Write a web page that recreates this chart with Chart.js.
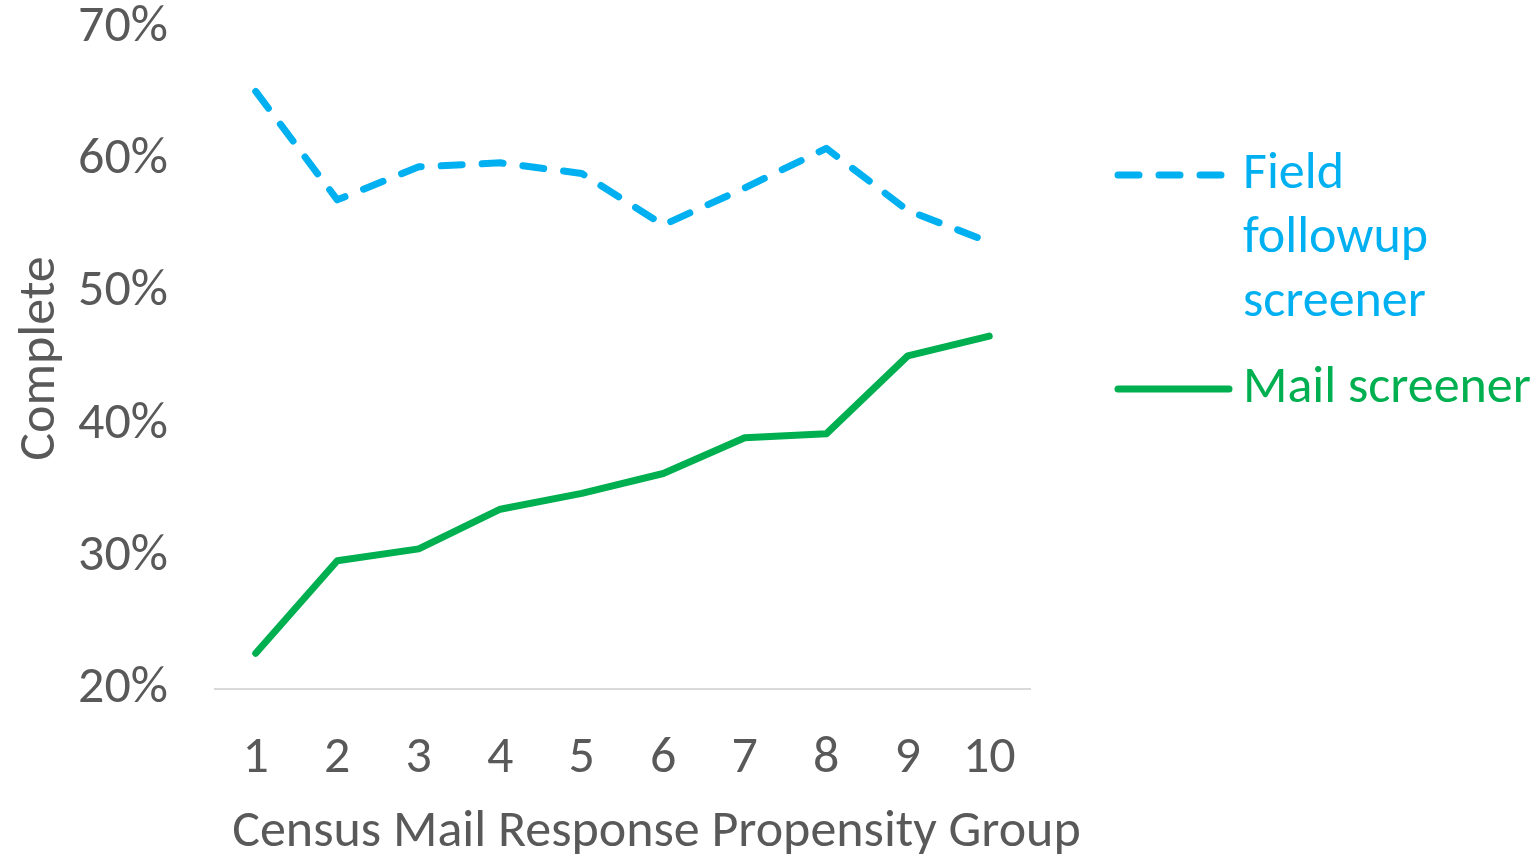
<!DOCTYPE html>
<html>
<head>
<meta charset="utf-8">
<script src="https://cdn.jsdelivr.net/npm/chart.js@4/dist/chart.umd.min.js"></script>
<style>
  html, body { margin: 0; padding: 0; background: #fff; }
  #wrap { width: 1540px; height: 859px; }
</style>
</head>
<body>
<div id="wrap"><canvas id="lineas" width="1540" height="859"></canvas></div>
<script>
// data
var groups = ['1', '2', '3', '4', '5', '6', '7', '8', '9', '10'];
var fieldFollowup = [65.2, 57.0, 59.5, 59.8, 59.0, 55.1, 57.9, 60.9, 56.2, 53.8];
var mailScreener = [22.7, 29.7, 30.6, 33.6, 34.8, 36.3, 39.0, 39.3, 45.2, 46.7];
var seriesNames = [['Field', 'followup', 'screener'], ['Mail screener']];
var yTicks = [20, 30, 40, 50, 60, 70];
var xTitle = 'Census Mail Response Propensity Group';

var FONT = 'Carlito, Calibri, Lato, sans-serif';
var GREY = '#595959';
var SIZE = 52;

// legend on the right, one line of text per row, plus the x title
var leyenda = {
    id: 'leyenda',
    afterDraw: function (chart) {
        var ctx = chart.ctx;
        var area = chart.chartArea;
        var x0 = area.right + 88;
        var y = 175;
        ctx.save();
        ctx.font = SIZE + 'px ' + FONT;
        ctx.textBaseline = 'middle';
        chart.data.datasets.forEach(function (ds, i) {
            ctx.strokeStyle = ds.borderColor;
            ctx.lineWidth = ds.borderWidth;
            ctx.lineCap = 'round';
            ctx.setLineDash(ds.borderDash || []);
            ctx.beginPath();
            ctx.moveTo(x0, y);
            ctx.lineTo(x0 + 111, y);
            ctx.stroke();
            ctx.setLineDash([]);
            ctx.fillStyle = ds.borderColor;
            seriesNames[i].forEach(function (line, j) {
                ctx.fillText(line, x0 + 125, y + j * 64);
            });
            y += seriesNames[i].length * 64 + 22;
        });
        // excel puts the axis title a bit right of the plot centre
        ctx.fillStyle = GREY;
        ctx.textAlign = 'center';
        ctx.fillText(xTitle, (area.left + area.right) / 2 + 34, area.bottom + 144);
        ctx.restore();
    }
};

var ctx = document.getElementById('lineas');
var grafica = new Chart(ctx, {
    type: 'line',
    data: {
        labels: groups,
        datasets: [{
            label: seriesNames[0].join(' '),
            data: fieldFollowup,
            borderColor: '#00B0F0',
            backgroundColor: '#00B0F0',
            borderWidth: 7,
            borderDash: [21, 20],
            borderCapStyle: 'round',
            borderJoinStyle: 'round',
            pointRadius: 0,
            tension: 0
        }, {
            label: seriesNames[1].join(' '),
            data: mailScreener,
            borderColor: '#00B050',
            backgroundColor: '#00B050',
            borderWidth: 7,
            borderCapStyle: 'round',
            borderJoinStyle: 'round',
            pointRadius: 0,
            tension: 0
        }]
    },
    options: {
        responsive: false,
        animation: false,
        layout: { padding: { left: 10, right: 510, top: 28, bottom: 4 } },
        plugins: {
            legend: { display: false },
            tooltip: { enabled: false }
        },
        scales: {
            x: {
                offset: true,
                grid: { display: false },
                border: { display: true, color: '#D9D9D9', width: 2 },
                ticks: { color: GREY, font: { family: FONT, size: SIZE }, padding: 31, maxRotation: 0 },
                afterFit: function (scale) { scale.height = 166; },
                title: { display: false }
            },
            y: {
                min: 20,
                max: 70,
                afterBuildTicks: function (scale) {
                    scale.ticks = yTicks.map(function (v) { return { value: v }; });
                },
                afterFit: function (scale) {
                    scale.width = 205;
                    scale.paddingTop = 0;
                    scale.paddingBottom = 0;
                },
                grid: { display: false },
                border: { display: false },
                ticks: {
                    color: GREY,
                    font: { family: FONT, size: SIZE },
                    padding: 39,
                    callback: function (v) { return v + '%'; }
                },
                title: {
                    display: true,
                    text: 'Complete',
                    color: GREY,
                    font: { family: FONT, size: SIZE },
                    padding: 0
                }
            }
        }
    },
    plugins: [leyenda]
});
</script>
</body>
</html>
